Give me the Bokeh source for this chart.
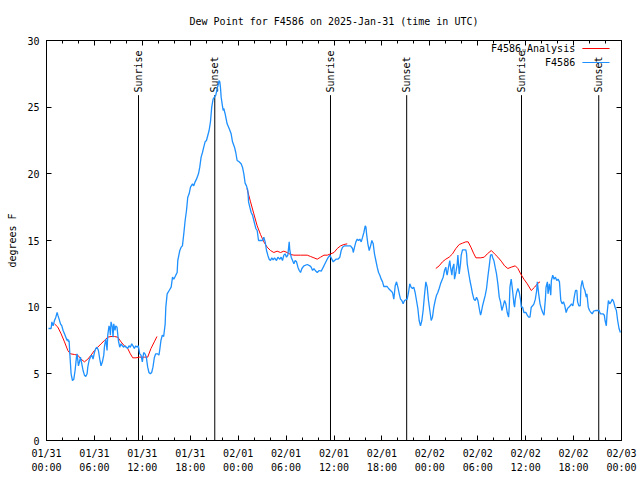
import math
from bokeh.plotting import figure
from bokeh.models import FixedTicker, LinearAxis, Range1d, Label
from bokeh.embed import file_html
from bokeh.resources import INLINE
from bokeh.core.properties import value

FONT = "DejaVu Sans Mono"

title_text = "Dew Point for F4586 on 2025-Jan-31 (time in UTC)"
y_label = "degrees F"
x_tick_hours = [0, 6, 12, 18, 24, 30, 36, 42, 48, 54, 60, 66, 72]
x_tick_labels = ["01/31\n00:00", "01/31\n06:00", "01/31\n12:00", "01/31\n18:00",
                 "02/01\n00:00", "02/01\n06:00", "02/01\n12:00", "02/01\n18:00",
                 "02/02\n00:00", "02/02\n06:00", "02/02\n12:00", "02/02\n18:00",
                 "02/03\n00:00"]
x_minor_hours = list(range(0, 73, 2))
y_ticks = [0, 5, 10, 15, 20, 25, 30]

sunrise_hours = [11.52, 35.56, 59.48]
sunset_hours = [21.07, 45.10, 69.15]

obs_name = "F4586"
ana_name = "F4586\u1d64Analysis"

# observed dew point (hours since 01/31 00:00 UTC, deg F)
obs_hours = [
    0.25, 0.58, 0.67, 0.83, 1.0, 1.17, 1.33, 1.42, 1.58, 1.75, 1.92, 2.08, 2.25, 2.42, 2.58,
    2.67, 2.75, 2.83, 2.92, 3.0, 3.08, 3.25, 3.42, 3.58, 3.75, 3.83, 4.0, 4.17, 4.25, 4.42,
    4.58, 4.75, 4.92, 5.08, 5.17, 5.33, 5.5, 5.67, 5.83, 6.0, 6.17, 6.33, 6.5, 6.67, 6.83,
    7.0, 7.17, 7.25, 7.42, 7.5, 7.58, 7.67, 7.83, 7.92, 8.0, 8.08, 8.25, 8.33, 8.42, 8.58,
    8.67, 8.83, 9.0, 9.17, 9.33, 9.5, 9.67, 9.83, 10.0, 10.17, 10.33, 10.5, 10.67, 10.83,
    11.0, 11.17, 11.33, 11.5, 11.67, 11.83, 12.0, 12.17, 12.33, 12.5, 12.67, 12.83, 13.0,
    13.17, 13.33, 13.5, 13.67, 13.92, 14.08, 14.17, 14.33, 14.5, 14.67, 14.86, 14.94, 15.11,
    15.36, 15.61, 15.78, 15.94, 16.19, 16.36, 16.44, 16.69, 16.86, 17.02, 17.19, 17.36, 17.53,
    17.69, 17.86, 18.03, 18.28, 18.44, 18.61, 18.78, 19.03, 19.19, 19.36, 19.53, 19.69, 19.86,
    20.03, 20.36, 20.53, 20.69, 20.86, 21.03, 21.2, 21.37, 21.53, 21.6, 21.7, 21.78, 21.87,
    22.03, 22.12, 22.2, 22.37, 22.62, 22.87, 23.12, 23.29, 23.54, 23.7, 23.87, 24.12, 24.37,
    24.54, 24.71, 24.87, 25.04, 25.21, 25.3, 25.46, 25.63, 25.8, 25.96, 26.13, 26.21, 26.38,
    26.55, 27.05, 27.21, 27.38, 27.55, 27.71, 27.88, 28.05, 28.21, 28.38, 28.55, 28.8, 28.97,
    29.22, 29.38, 29.55, 29.72, 29.88, 30.05, 30.22, 30.39, 30.47, 30.64, 30.81, 30.98, 31.14,
    31.31, 31.48, 31.65, 31.81, 31.98, 32.23, 32.65, 32.98, 33.15, 33.32, 33.49, 33.65, 33.9,
    34.15, 34.4, 34.57, 34.74, 34.99, 35.24, 35.49, 35.73, 35.9, 36.07, 36.24, 36.48, 36.73,
    36.9, 37.07, 37.32, 37.65, 38.07, 38.32, 38.41, 38.57, 38.74, 38.91, 39.07, 39.24, 39.41,
    39.58, 39.74, 39.91, 40.0, 40.08, 40.24, 40.41, 40.58, 40.74, 40.91, 41.07, 41.24, 41.41,
    41.58, 41.74, 41.91, 42.08, 42.24, 42.66, 42.83, 43.08, 43.33, 43.49, 43.58, 43.66, 43.83,
    44.0, 44.17, 44.33, 44.49, 44.66, 44.83, 45.16, 45.33, 45.49, 45.66, 45.83, 45.99, 46.16,
    46.33, 46.5, 46.66, 46.83, 47.0, 47.16, 47.33, 47.5, 47.67, 47.83, 48.0, 48.17, 48.33,
    48.5, 48.67, 48.84, 49.0, 49.17, 49.34, 49.5, 49.67, 49.84, 50.0, 50.09, 50.17, 50.34,
    50.5, 50.59, 50.76, 50.84, 51.01, 51.09, 51.26, 51.43, 51.51, 51.68, 51.84, 51.93, 52.09,
    52.51, 52.6, 52.68, 52.85, 53.02, 53.19, 53.35, 53.52, 53.69, 53.85, 54.02, 54.19, 54.35,
    54.44, 54.6, 54.77, 54.94, 55.1, 55.27, 55.44, 55.6, 55.77, 55.85, 56.02, 56.18, 56.35,
    56.52, 56.69, 56.85, 57.02, 57.19, 57.36, 57.52, 57.69, 57.86, 57.94, 58.03, 58.19, 58.36,
    58.53, 58.61, 58.7, 58.86, 59.03, 59.2, 59.37, 59.45, 59.62, 59.78, 60.04, 60.2, 60.37,
    60.54, 60.7, 60.87, 61.04, 61.21, 61.38, 61.46, 61.63, 61.8, 61.96, 62.13, 62.3, 62.47,
    62.55, 62.72, 62.8, 62.97, 63.14, 63.22, 63.39, 63.56, 63.73, 63.89, 64.06, 64.23, 64.4,
    64.57, 64.73, 64.9, 65.07, 65.24, 65.4, 65.57, 65.74, 65.91, 66.08, 66.24, 66.41, 66.5,
    66.66, 66.83, 66.92, 67.08, 67.25, 67.42, 67.59, 67.67, 67.84, 68.0, 68.17, 68.34, 68.51,
    68.76, 69.01, 69.18, 69.35, 69.68, 69.85, 69.94, 70.1, 70.19, 70.36, 70.52, 70.69, 70.86,
    71.02, 71.19, 71.36, 71.52, 71.69, 71.86,
]
obs_dewpt = [
    8.4, 8.4, 8.9, 8.6, 9.0, 9.25, 9.6, 9.4, 9.1, 8.75, 8.6, 8.25, 8.0, 7.75, 7.5,
    7.6, 7.4, 7.5, 6.5, 5.75, 5.0, 4.5, 4.6, 5.25, 6.25, 6.5, 5.6, 6.0, 6.25, 5.75,
    5.25, 4.9, 4.8, 5.0, 5.5, 6.0, 6.25, 6.4, 6.1, 6.6, 6.9, 7.0, 6.75, 6.1, 5.6,
    5.9, 6.4, 7.0, 7.6, 7.25, 6.75, 7.9, 8.6, 8.4, 7.9, 8.9, 8.5, 7.75, 8.75, 8.25,
    8.6, 8.5, 7.5, 7.0, 7.25, 7.1, 7.0, 7.1, 7.0, 6.9, 7.1, 7.0, 7.25, 7.1,
    6.9, 7.1, 7.0, 7.1, 6.5, 6.4, 5.9, 6.6, 6.5, 6.25, 5.5, 5.1, 5.0,
    5.1, 5.5, 6.2, 6.5, 6.5, 6.4, 6.75, 7.5, 7.9, 7.8, 8.75, 10.0, 11.0,
    11.25, 11.5, 12.25, 12.1, 12.4, 12.6, 13.5, 14.25, 14.5, 14.6, 15.5, 16.5, 17.25,
    18.25, 18.5, 19.0, 19.25, 19.1, 19.4, 19.6, 20.0, 20.5, 21.25, 21.6, 22.0, 22.4,
    22.5, 23.25, 23.9, 25.0, 25.6, 25.75, 25.9, 26.4, 26.75, 27.0, 26.9, 26.5, 25.75,
    25.1, 24.75, 24.9, 24.5, 23.75, 23.4, 23.0, 22.4, 22.0, 21.6, 21.0, 20.9, 20.75,
    20.5, 20.0, 19.3, 19.1, 18.75, 17.9, 17.5, 17.1, 16.9, 16.5, 16.1, 15.9, 15.75,
    15.0, 15.0, 15.25, 14.9, 14.25, 13.9, 13.6, 13.5, 13.7, 13.55, 13.7, 13.5, 13.75,
    13.6, 13.75, 13.5, 13.9, 14.0, 13.75, 13.9, 14.9, 14.25, 13.75, 13.5, 13.25, 13.5,
    13.4, 13.0, 12.75, 12.6, 12.9, 13.1, 13.2, 13.1, 13.0, 12.75, 12.9, 12.75, 12.6,
    12.75, 12.7, 12.9, 13.1, 13.4, 13.7, 13.9, 13.6, 13.4, 13.5, 13.6, 13.6, 13.75,
    14.25, 14.5, 14.6, 14.6, 14.6, 14.4, 14.1, 14.5, 14.9, 15.1, 15.0, 15.1, 14.9,
    15.25, 15.6, 16.1, 16.0, 15.5, 14.75, 14.25, 14.6, 15.0, 14.75, 14.0, 13.5, 13.0,
    12.6, 12.4, 12.1, 11.9, 11.55, 11.55, 11.4, 11.25, 11.1, 10.6, 11.1, 11.6, 11.9,
    11.5, 11.0, 10.6, 10.5, 10.25, 10.5, 10.6, 11.1, 11.75, 11.5, 11.4, 11.5, 11.1,
    10.5, 9.9, 9.0, 8.6, 9.0, 9.75, 10.9, 11.9, 11.5, 10.5, 9.75, 9.0, 9.25,
    10.0, 10.5, 10.9, 11.1, 11.4, 11.75, 12.0, 12.25, 12.75, 13.0, 12.6, 12.4, 13.0,
    13.5, 13.0, 12.4, 12.9, 13.25, 12.1, 12.6, 13.25, 13.9, 12.5, 13.25, 13.9, 14.3,
    14.3, 14.0, 13.25, 12.6, 12.0, 11.5, 11.0, 10.6, 10.5, 10.75, 10.5, 9.9, 9.4,
    9.6, 10.1, 10.5, 10.9, 11.4, 12.3, 13.1, 13.9, 13.95, 13.75, 13.5, 13.0, 12.5,
    11.75, 10.75, 10.4, 9.75, 10.1, 10.5, 10.25, 9.6, 9.25, 10.0, 11.5, 12.1, 11.25,
    10.25, 10.0, 10.6, 11.1, 11.4, 11.1, 10.5, 10.0, 10.0, 9.6, 9.6, 9.4, 9.25,
    9.25, 10.0, 10.1, 10.25, 10.6, 11.25, 11.9, 11.0, 10.25, 9.9, 9.6, 9.4, 10.6,
    11.5, 11.9, 11.0, 11.75, 10.9, 12.0, 12.4, 12.1, 12.25, 12.0, 12.1, 11.9, 10.5,
    10.25, 10.4, 10.1, 9.6, 9.9, 10.0, 10.1, 10.25, 10.1, 10.75, 11.25, 11.25, 10.4,
    10.1, 10.1, 11.5, 12.0, 11.5, 11.25, 10.75, 11.0, 10.0, 9.75, 9.6, 9.5, 9.7,
    9.75, 9.75, 9.75, 9.5, 9.5, 9.4, 9.0, 8.6, 9.5, 10.5, 10.25, 10.4, 10.6,
    10.4, 10.0, 9.75, 9.0, 8.4, 8.1,
]

# analysis dew point (NaN separates the three analysis runs)
nan = float("nan")
ana_hours = [
    1.0, 1.42, 1.83, 2.25, 2.67, 3.0, 3.5, 3.92, 4.33, 4.75, 5.17, 5.58, 6.0, 6.42, 6.83,
    7.25, 7.67, 8.08, 8.5, 8.92, 9.33, 9.75, 10.17, 10.5, 10.8, 11.2, 11.63, 12.25, 12.67,
    13.08, 13.5, 13.83, nan,
    25.1, 25.55, 25.96, 26.38, 26.8, 27.21, 27.63, 28.05, 28.46, 28.88, 29.3, 29.72, 30.13,
    30.56, 30.98, 31.81, 32.65, 33.07, 33.49, 33.9, 34.32, 34.74, 35.16, 35.58, 36.0, 36.41,
    36.83, 37.24, 37.66, nan,
    48.75, 49.17, 49.58, 50.0, 50.42, 50.84, 51.26, 51.68, 52.09, 52.51, 52.8, 53.14, 53.47,
    53.77, 54.39, 54.81, 55.2, 55.7, 56.1, 56.52, 56.94, 57.36, 57.77, 58.19, 58.7, 59.03,
    59.37, 59.78, 60.2, 60.7, 61.12, 61.54, 61.8,
]
ana_dewpt = [
    8.75, 8.5, 8.0, 7.4, 6.75, 6.5, 6.45, 6.4, 6.1, 5.9, 6.1, 6.4, 6.75, 7.0, 7.25,
    7.5, 7.75, 7.8, 7.8, 7.75, 7.4, 7.1, 6.9, 6.5, 6.2, 6.2, 6.25, 6.25, 6.25,
    6.9, 7.4, 7.8, nan,
    18.9, 17.9, 17.0, 16.1, 15.45, 14.9, 14.5, 14.25, 14.1, 14.2, 14.1, 14.2, 14.1,
    13.95, 13.9, 13.9, 13.9, 13.8, 13.7, 13.6, 13.75, 13.9, 13.9, 14.0, 14.1, 14.4,
    14.6, 14.7, 14.75, nan,
    12.9, 13.1, 13.4, 13.6, 13.75, 14.0, 14.4, 14.7, 14.8, 14.9, 14.9, 14.5, 14.05,
    13.7, 13.7, 13.75, 14.0, 14.25, 14.0, 13.75, 13.45, 13.1, 12.9, 13.0, 13.1, 12.9,
    12.5, 12.1, 11.75, 11.25, 11.5, 11.8, 11.9,
]

RED = "#ff0000"
BLUE = "#1e90ff"

p = figure(width=640, height=480, x_range=Range1d(0, 72), y_range=Range1d(0, 30),
           output_backend="svg", toolbar_location=None,
           min_border_left=46, min_border_right=19, min_border_top=40, min_border_bottom=40,
           background_fill_color="white", border_fill_color="white")
p.grid.visible = False
p.outline_line_color = "black"
p.outline_line_width = 1

p.title.text = title_text
p.title.align = "center"
p.title.text_font = FONT
p.title.text_font_size = "10px"
p.title.text_font_style = "normal"
p.title.text_color = "black"
p.title.standoff = 27

p.add_layout(LinearAxis(), "above")
p.add_layout(LinearAxis(), "right")

xt = FixedTicker(ticks=x_tick_hours, minor_ticks=x_minor_hours)
yt = FixedTicker(ticks=y_ticks, minor_ticks=[])
for ax in p.xaxis:
    ax.ticker = xt
for ax in p.yaxis:
    ax.ticker = yt

for ax in p.axis:
    ax.major_tick_in = 5
    ax.major_tick_out = 0
    ax.minor_tick_in = 3
    ax.minor_tick_out = 0
    ax.axis_line_color = "black"
    ax.major_tick_line_color = "black"
    ax.minor_tick_line_color = "black"
    ax.major_label_text_font = FONT
    ax.major_label_text_font_size = "10px"
    ax.major_label_text_color = "black"

# mirrored axes carry ticks only
p.above[0].major_label_overrides = {t: "" for t in x_tick_hours}
p.above[0].major_label_standoff = 0
p.right[0].major_label_overrides = {t: "" for t in y_ticks}
p.right[0].major_label_standoff = 0

bx = p.below[0]
bx.major_label_overrides = dict(zip(x_tick_hours, x_tick_labels))
bx.major_label_standoff = 7
bx.major_label_text_line_height = 1.35

ly = p.left[0]
ly.major_label_standoff = 7
ly.axis_label = y_label
ly.axis_label_text_font = FONT
ly.axis_label_text_font_size = "10px"
ly.axis_label_text_font_style = "normal"
ly.axis_label_text_color = "black"
ly.axis_label_standoff = 6

# sunrise / sunset markers
sun_hours = sunrise_hours + sunset_hours
sun_names = ["Sunrise"] * len(sunrise_hours) + ["Sunset"] * len(sunset_hours)
line_top = 25.9
label_y = 26.1
p.segment(x0=sun_hours, y0=[0] * len(sun_hours), x1=sun_hours, y1=[line_top] * len(sun_hours),
          line_color="black", line_width=1)
p.text(x=sun_hours, y=[label_y] * len(sun_hours), text=sun_names, angle=math.pi / 2,
       text_align="left", text_baseline="middle", text_font=value(FONT),
       text_font_size="10px", text_color="black")

p.line(ana_hours, ana_dewpt, line_color=RED, line_width=1)
p.line(obs_hours, obs_dewpt, line_color=BLUE, line_width=1.3)

# key (text first, then sample, as in the original)
key_text_x = 66.2
key_x0, key_x1 = 67.1, 70.5
key_y = [29.4, 28.35]
for name, col, yy in [(ana_name, RED, key_y[0]), (obs_name, BLUE, key_y[1])]:
    p.add_layout(Label(x=key_text_x, y=yy, text=name, text_align="right", text_baseline="middle",
                       text_font=FONT, text_font_size="10px", text_color="black"))
    p.segment(x0=[key_x0], y0=[yy], x1=[key_x1], y1=[yy], line_color=col, line_width=1.2)

open("out.html", "w").write(file_html(p, INLINE))
